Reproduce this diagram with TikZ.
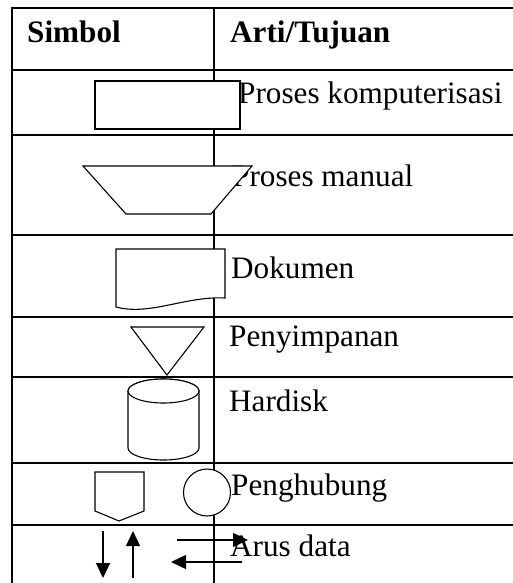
\documentclass[tikz,border=0pt]{standalone}
\usepackage{fontspec}
\setmainfont{Liberation Serif}
\usetikzlibrary{arrows.meta}

\tikzset{
  grid/.style={line width=2pt},
  sym/.style={line width=1.1pt, fill=white},
  txt/.style={anchor=base west, inner sep=0pt, font=\fontsize{31.2}{36}\selectfont},
  flow/.style={line width=1.3pt, -{Triangle[length=15pt,width=14pt]}}
}

\begin{document}
\begin{tikzpicture}[x=1pt,y=-1pt]
                \useasboundingbox (0,0) rectangle (513,583);
                % table
                \draw[grid] (12,583) -- (12,8) -- (513,8);
                \draw[grid] (214,8) -- (214,583);
                \foreach \y in {70,135,235,317,377,463,525}
                    \draw[grid] (12,\y) -- (513,\y);

                % texts
                \node[txt, font=\fontsize{31.2}{36}\selectfont\bfseries] (hsym) at (27,43) {Simbol};
                \node[txt, font=\fontsize{31.2}{36}\selectfont\bfseries] (harti) at (230,43) {Arti/Tujuan};
                \node[txt] (tkomp) at (238,104) {Proses komputerisasi};
                \node[txt] (tman) at (232,186) {Proses manual};
                \node[txt] (tdok) at (231,278) {Dokumen};
                \node[txt] (tsimpan) at (229,346) {Penyimpanan};
                \node[txt] (thdd) at (229,411) {Hardisk};
                \node[txt] (thub) at (231,495) {Penghubung};
                \node[txt] (tarus) at (230,556) {Arus data};

                % symbols
                \draw[sym] (95,81) rectangle (240,129);
                \draw[sym] (83,166) -- (252,166) -- (211,214) -- (126,214) -- cycle;
                \draw[sym] (116,249) -- (225,249) -- (225,298)
                    .. controls (185,296) and (150,316) .. (116,307) -- cycle;
                \draw[sym] (131,327) -- (204,327) -- (167,375) -- cycle;
                \draw[sym] (128,391) -- (128,448) arc[start angle=180, end angle=360, x radius=35.5, y radius=-12]
                    -- (199,391) arc[start angle=0, end angle=180, x radius=35.5, y radius=-12] -- cycle;
                \draw[sym] (163.5,391) ellipse[x radius=35.5, y radius=12];
                \draw[sym] (95,472) -- (144,472) -- (144,511) -- (119,521) -- (95,511) -- cycle;
                \draw[sym] (207,492.5) circle (23.5);

                % arrows
                \coordinate (d1) at (103,531);
                \coordinate (d2) at (103,578);
                \coordinate (u1) at (133,578);
                \coordinate (u2) at (133,531);
                \coordinate (r1) at (177,540);
                \coordinate (r2) at (248,540);
                \coordinate (l1) at (242,562);
                \coordinate (l2) at (171,562);
                \draw[flow] (d1) -- (d2);
                \draw[flow] (u1) -- (u2);
                \draw[flow] (r1) -- (r2);
                \draw[flow] (l1) -- (l2);
            \end{tikzpicture}
\end{document}
